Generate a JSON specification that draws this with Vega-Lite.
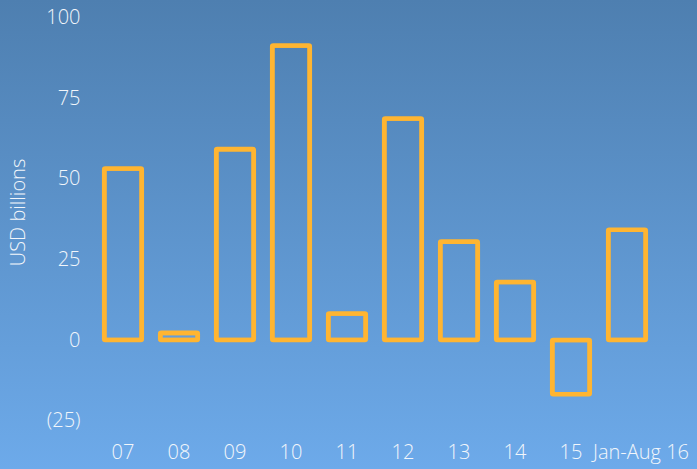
{
  "$schema": "https://vega.github.io/schema/vega-lite/v6.json",
  "width": 697,
  "height": 469,
  "autosize": {"type": "none"},
  "padding": 0,
  "background": "#5d94cc",
  "config": {
    "view": {
      "stroke": null,
      "fill": {
        "gradient": "linear",
        "x1": 0, "y1": 0, "x2": 0, "y2": 1,
        "stops": [
          {"offset": 0, "color": "#4e7fb0"},
          {"offset": 1, "color": "#6daaea"}
        ]
      }
    },
    "font": "Open Sans"
  },
  "data": {
    "values": [
      {"period": "07", "value": 53.2},
      {"period": "08", "value": 2.2},
      {"period": "09", "value": 59.2},
      {"period": "10", "value": 91.3},
      {"period": "11", "value": 8.2},
      {"period": "12", "value": 68.7},
      {"period": "13", "value": 30.5},
      {"period": "14", "value": 18.0},
      {"period": "15", "value": -16.8},
      {"period": "Jan-Aug 16", "value": 34.2}
    ]
  },
  "mark": {
    "type": "bar",
    "fill": "transparent",
    "stroke": "#ffb531",
    "strokeWidth": 4.6,
    "strokeJoin": "round",
    "cornerRadius": 1
  },
  "encoding": {
    "x": {
      "field": "period",
      "type": "nominal",
      "sort": null,
      "scale": {"range": [95, 655], "paddingInner": 0.33, "paddingOuter": 0.165},
      "axis": {
        "title": null,
        "orient": "bottom",
        "offset": -49,
        "domain": false,
        "ticks": false,
        "labelAngle": 0,
        "labelFont": "Open Sans",
        "labelFontWeight": 300,
        "labelFontSize": 20,
        "labelColor": "#f2f6fb",
        "labelBaseline": "middle",
        "labelPadding": 32,
        "labelOverlap": false,
        "labelBound": false,
        "labelOffset": {"condition": {"test": "datum.value === 'Jan-Aug 16'", "value": 14}, "value": 0}
      }
    },
    "y": {
      "field": "value",
      "type": "quantitative",
      "scale": {"domain": [-40, 105.43], "nice": false, "zero": false},
      "axis": {
        "title": "USD billions",
        "orient": "left",
        "offset": -95,
        "domain": false,
        "ticks": false,
        "grid": false,
        "values": [-25, 0, 25, 50, 75, 100],
        "labelExpr": "datum.value < 0 ? '(' + abs(datum.value) + ')' : datum.label",
        "labelFont": "Open Sans",
        "labelFontWeight": 300,
        "labelFontSize": 20,
        "labelColor": "#f2f6fb",
        "labelPadding": 15,
        "labelBound": false,
        "labelFlush": false,
        "labelOverlap": false,
        "titleFont": "Open Sans",
        "titleFontWeight": 300,
        "titleFontSize": 20,
        "titleColor": "#f2f6fb",
        "titleAngle": -90,
        "titleAlign": "center",
        "titleBaseline": "middle",
        "titleX": -77,
        "titleY": 212
      }
    }
  }
}
